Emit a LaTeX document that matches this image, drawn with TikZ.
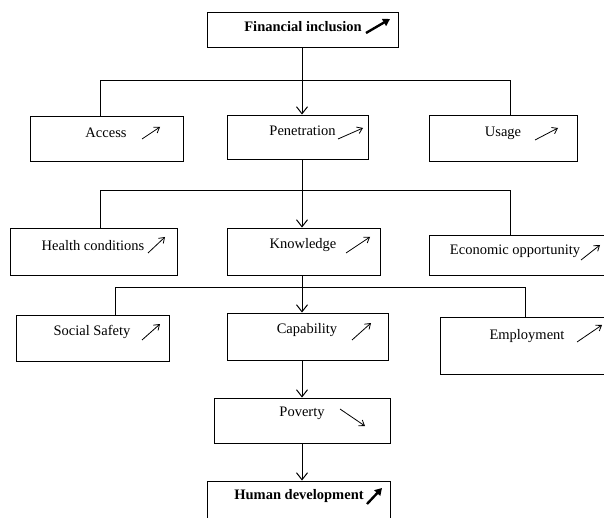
\documentclass[tikz,border=0pt]{standalone}
\usepackage{fontspec}
\setmainfont{Liberation Serif}
\usetikzlibrary{arrows.meta}
\begin{document}
\begin{tikzpicture}[x=1pt,y=-1pt,
  box/.style={draw, line width=0.9pt, rectangle, inner sep=0pt},
  lbl/.style={inner sep=0pt, font=\fontsize{14.5}{17}\selectfont},
  blbl/.style={inner sep=0pt, font=\fontsize{14.5}{17}\selectfont\bfseries},
  conn/.style={line width=1pt},
  arr/.style={line width=1pt, -{Straight Barb[length=7pt,width=11pt]}},
  trend/.style={line width=0.8pt, -{Straight Barb[length=5pt,width=7pt]}},
  btrend/.style={line width=2.4pt, -{Triangle[length=7pt,width=8pt]}}]
\useasboundingbox (0,0) rectangle (604,518);
\clip (0,0) rectangle (604,518);
% boxes
\node[box, minimum width=191pt, minimum height=35pt] (fi)  at (302.5,29.5) {};
\node[box, minimum width=153pt, minimum height=45pt] (acc) at (106.5,138.5) {};
\node[box, minimum width=141pt, minimum height=44pt] (pen) at (297.5,137) {};
\node[box, minimum width=148pt, minimum height=46pt] (use) at (503,138) {};
\node[box, minimum width=167pt, minimum height=47pt] (hea) at (93.5,251.5) {};
\node[box, minimum width=153pt, minimum height=47pt] (kno) at (303.5,251.5) {};
\node[box, minimum width=191pt, minimum height=40pt] (eco) at (524.5,255) {};
\node[box, minimum width=153pt, minimum height=46pt] (soc) at (92.5,338) {};
\node[box, minimum width=161pt, minimum height=47pt] (cap) at (307.5,336.5) {};
\node[box, minimum width=180pt, minimum height=57pt] (emp) at (530,345.5) {};
\node[box, minimum width=176pt, minimum height=45pt] (pov) at (302,420.5) {};
\node[box, minimum width=183pt, minimum height=49pt] (hum) at (298.5,505.5) {};
% texts
\node[blbl] (t-fi)  at (303,27)  {Financial inclusion};
\node[lbl]  (t-acc) at (106,133) {Access};
\node[lbl]  (t-pen) at (302.5,131) {Penetration};
\node[lbl]  (t-use) at (503,133) {Usage};
\node[lbl]  (t-hea) at (93,246)  {Health conditions};
\node[lbl]  (t-kno) at (303,245) {Knowledge};
\node[lbl]  (t-eco) at (515,251) {Economic opportunity};
\node[lbl]  (t-soc) at (92,332)  {Social Safety};
\node[lbl]  (t-cap) at (307,330) {Capability};
\node[lbl]  (t-emp) at (527,336) {Employment};
\node[lbl]  (t-pov) at (302,413) {Poverty};
\node[blbl] (t-hum) at (299,496) {Human development};
% spine and junctions
\coordinate (spine) at (302,0);
\coordinate (j1l) at (100,81);  \coordinate (j1r) at (510,81);
\coordinate (j2l) at (100,191); \coordinate (j2r) at (510,191);
\coordinate (j3l) at (115,287); \coordinate (j3r) at (525,287);
% connectors level 1
\draw[arr] (spine |- fi.south) -- (spine |- pen.north);
\draw[conn] (j1l |- acc.north) -- (j1l) -- (j1r) -- (j1r |- use.north);
% level 2
\draw[arr] (spine |- pen.south) -- (spine |- kno.north);
\draw[conn] (j2l |- hea.north) -- (j2l) -- (j2r) -- (j2r |- eco.north);
% level 3
\draw[arr] (spine |- kno.south) -- (spine |- cap.north);
\draw[conn] (j3l |- soc.north) -- (j3l) -- (j3r) -- (j3r |- emp.north);
% lower chain
\draw[arr] (spine |- cap.south) -- (spine |- pov.north);
\draw[arr] (spine |- pov.south) -- (spine |- hum.north);
% trend arrows
\draw[btrend] (366,33) -- (390,19);
\draw[trend] (142,139) -- (160,127);
\draw[trend] (338,139) -- (363,128);
\draw[trend] (535,140) -- (558,128);
\draw[trend] (148,253) -- (165,237);
\draw[trend] (346,253) -- (370,237);
\draw[trend] (581,260) -- (600,245);
\draw[trend] (142,340) -- (160,324);
\draw[trend] (352,340) -- (371,323);
\draw[trend] (577,342) -- (602,325);
\draw[trend] (340,409) -- (365,426);
\draw[btrend] (367,504) -- (382,488);
\end{tikzpicture}
\end{document}
